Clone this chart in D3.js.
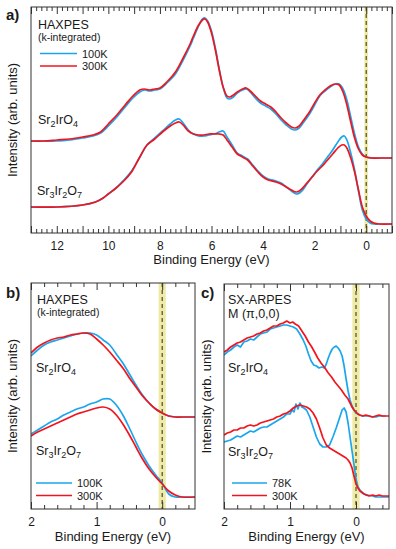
<!DOCTYPE html>
<html><head><meta charset="utf-8">
<script src="https://cdn.jsdelivr.net/npm/d3@7"></script>
<style>
body{margin:0;background:#fff;}
text{font-family:"Liberation Sans",Arial,Helvetica,sans-serif;fill:#1a1a1a;}
</style></head>
<body>
<script>
// ---------- DATA ----------
// Panel a (HAXPES, wide range)
const energyA214 = [13.0,12.5,12.0,11.5,11.0,10.6,10.3,10.0,9.67,9.35,9.05,8.78,8.6,8.4,8.2,8.0,7.73,7.4,7.1,6.83,6.7,6.5,6.35,6.25,6.15,6.0,5.85,5.7,5.55,5.4,5.3,5.15,5.0,4.8,4.65,4.5,4.3,4.1,3.9,3.7,3.5,3.3,3.1,2.9,2.75,2.6,2.45,2.2,2.0,1.8,1.6,1.4,1.2,1.05,0.9,0.75,0.6,0.45,0.3,0.15,0.0,-0.2,-0.5,-1.0];
const a214Red  = [92,92,93,94,96,98,101,109,118,128,137,143,144,143,144,145,151,161,175,189,197,208,213,214,211,200,183,163,146,137,136,138,141,144,145,142,137,132,129,126,121,115,110,106,105,107,112,121,130,138,143,147,149,148,141,128,111,95,84,78,76,75,75,75];
const a214Blue = [92,92,92,93,95,97,100,107,116,126,135,141,143,142,143,144,150,159,173,187,195,207,214,215,212,202,185,164,146,135,134,136,140,143,144,141,135,130,127,124,119,113,108,104,103,105,110,119,128,137,142,146,149,149,144,133,116,99,86,79,76,75,75,75];
const energyA327 = [13.0,12.0,11.0,10.5,10.2,10.0,9.7,9.4,9.1,8.8,8.5,8.2,7.9,7.6,7.4,7.25,7.1,6.9,6.7,6.5,6.3,6.1,5.9,5.7,5.55,5.4,5.2,5.0,4.8,4.6,4.4,4.2,4.0,3.8,3.5,3.3,3.1,2.9,2.7,2.5,2.3,2.1,1.9,1.7,1.5,1.3,1.1,0.95,0.85,0.75,0.6,0.45,0.3,0.15,0.0,-0.15,-0.3,-0.5,-1.0];
const a327Red  = [26,26,28,31,35,39,45,52,61,75,88,94,101,107,110,111,108,102,99,98,98,99,99,99,98,93,86,79,76,73,67,61,56,53,51,49,46,43,41,44,50,56,62,67,73,79,85,88,88,85,75,61,43,26,17,12,10,9,9];
const a327Blue = [26,26,28,31,35,39,45,53,62,75,88,95,102,109,113,114,110,103,99,97,97,98,99,101,102,96,88,80,77,74,68,62,57,54,52,50,46,42,39,42,49,56,63,69,76,83,91,96,97,93,80,63,42,23,14,10,9,9,9];

// Panel b (HAXPES, near E_F)
const energyB = [2.0,1.9,1.8,1.7,1.6,1.5,1.4,1.3,1.2,1.1,1.0,0.9,0.8,0.7,0.6,0.5,0.4,0.3,0.2,0.1,0.0,-0.1,-0.2,-0.3,-0.5];
const b214Red  = [156,162,166,169,171,172,174,175,176,175,170,164,157,149,141,131,122,113,106,100,96,93,92,92,92];
const b214Blue = [153,159,164,167,169,171,173,175,176,176,174,169,164,155,146,135,124,114,106,100,96,93,92,92,92];
const b327Red  = [73,77,80,83,86,89,92,95,97,99,101,102,100,94,85,74,62,50,40,32,25,18,14,12,12];
const b327Blue = [75,79,83,87,90,94,97,100,102,105,107,110,110,104,94,81,67,54,43,34,26,15,12,12,12];

// Panel c (SX-ARPES at M)
const energyC214Red = [2.0,1.95,1.9,1.85,1.8,1.75,1.7,1.65,1.6,1.55,1.5,1.45,1.4,1.35,1.3,1.25,1.2,1.15,1.1,1.05,1.0,0.96,0.92,0.87,0.82,0.77,0.72,0.67,0.62,0.58,0.53,0.47,0.42,0.37,0.32,0.27,0.22,0.17,0.12,0.09,0.06,0.03,0.0,-0.03,-0.06,-0.1,-0.15,-0.2,-0.25,-0.3,-0.35,-0.4,-0.45,-0.5];
const c214Red = [157,159,162,164,166,167,169,171,172,173,175,176,178,179,181,183,183,185,186,188,186,187,185,183,178,173,167,162,156,151,146,141,136,132,127,123,119,114,110,106,102,99,97,95,94,93,94,93,92,93,94,93,93,93];
const energyC214Blue = [2.0,1.95,1.9,1.85,1.8,1.75,1.7,1.65,1.6,1.55,1.5,1.45,1.4,1.35,1.3,1.25,1.2,1.15,1.1,1.05,1.0,0.95,0.9,0.85,0.8,0.76,0.72,0.68,0.64,0.6,0.56,0.52,0.48,0.45,0.42,0.39,0.36,0.33,0.3,0.27,0.24,0.21,0.18,0.15,0.12,0.09,0.06,0.03,0.0,-0.05,-0.1,-0.15,-0.2,-0.25,-0.3,-0.35,-0.4,-0.45];
const c214Blue = [154,157,159,162,164,162,167,168,170,169,172,175,176,177,180,181,182,183,184,184,183,182,180,175,169,163,155,148,144,143,141,142,141,145,151,156,160,162,163,161,158,153,143,130,118,109,103,99,96,94,93,93,93,92,92,93,93,93];
const energyC327Red = [2.0,1.95,1.9,1.85,1.8,1.75,1.7,1.65,1.6,1.55,1.5,1.45,1.4,1.35,1.3,1.25,1.2,1.15,1.1,1.05,1.0,0.95,0.9,0.85,0.8,0.75,0.7,0.65,0.6,0.55,0.5,0.45,0.4,0.35,0.3,0.25,0.2,0.15,0.12,0.09,0.06,0.03,0.0,-0.03,-0.06,-0.1,-0.15,-0.2,-0.25,-0.3,-0.35,-0.4,-0.45,-0.5];
const c327Red = [74,76,77,79,79,81,81,83,84,83,84,86,87,88,89,90,92,93,95,96,98,101,103,104,103,102,100,96,90,81,71,64,61,59,57,55,53,51,49,46,41,33,25,21,18,16,14,13,14,13,14,13,13,13];
const energyC327Blue = [2.0,1.95,1.9,1.85,1.8,1.75,1.7,1.65,1.6,1.55,1.5,1.45,1.4,1.35,1.3,1.25,1.2,1.15,1.1,1.05,1.0,0.97,0.94,0.91,0.88,0.85,0.82,0.79,0.75,0.7,0.65,0.6,0.55,0.5,0.45,0.4,0.35,0.3,0.25,0.21,0.18,0.15,0.12,0.09,0.06,0.03,0.0,-0.03,-0.07,-0.12,-0.18,-0.25,-0.3,-0.35,-0.4,-0.45,-0.5];
const c327Blue = [67,68,69,71,73,72,74,76,78,77,79,81,82,82,84,86,88,90,92,95,95,99,97,105,100,106,102,101,99,92,82,72,65,62,62,64,72,81,91,99,101,97,86,72,58,44,30,22,18,15,14,13,12,12,12,12,12];

const tickLabelsA = [12,10,8,6,4,2,0];
const tickLabelsBC = [2,1,0];
const legendB = ["100K","300K"];
const legendC = ["78K","300K"];

// ---------- STYLE ----------
const BLUE = "#1aa6ee", RED = "#f2141c", AXIS = "#333";
const svg = d3.select("body").append("svg").attr("width",396).attr("height",549);

function drawPanel(o){
  const x = d3.scaleLinear().domain([o.emax,o.emin]).range([o.left,o.right]);
  const y = d3.scaleLinear().domain([0,o.bottom-o.top]).range([o.bottom,o.top]);
  const g = svg.append("g");
  const clipId = "clip"+o.id;
  svg.append("clipPath").attr("id",clipId).append("rect")
    .attr("x",o.left).attr("y",o.top).attr("width",o.right-o.left).attr("height",o.bottom-o.top);
  g.append("rect").attr("x",x(o.band)).attr("y",o.top).attr("width",x(-o.band)-x(o.band))
    .attr("height",o.bottom-o.top).attr("fill","#efeaa6");
  g.append("line").attr("x1",x(0)).attr("x2",x(0)).attr("y1",o.top).attr("y2",o.bottom)
    .attr("stroke","#4a4a30").attr("stroke-width",1.2).attr("stroke-dasharray","4,3");
  const line = d3.line().x(d=>x(d[0])).y(d=>y(d[1])).curve(o.curve);
  const cg = g.append("g").attr("clip-path",`url(#${clipId})`);
  o.series.forEach(s=>{
    cg.append("path").datum(d3.zip(s.e,s.v)).attr("d",line)
      .attr("fill","none").attr("stroke",s.color).attr("stroke-width",1.7)
      .attr("stroke-linejoin","round");
  });
  const minor = d3.range(Math.ceil(o.emin*5), Math.floor(o.emax*5)+1).map(d=>d/5).filter(d=>Math.abs(d-Math.round(d))>1e-6);
  const major = d3.range(Math.ceil(o.emin), Math.floor(o.emax)+1);
  const bot = g.append("g").attr("transform",`translate(0,${o.bottom})`);
  bot.call(d3.axisBottom(x).tickValues(minor).tickSize(-4).tickFormat(""));
  bot.append("g").call(d3.axisBottom(x).tickValues(major).tickSize(-7).tickPadding(8)
    .tickFormat(d=>o.labels.includes(d)?String(d):""));
  const top = g.append("g").attr("transform",`translate(0,${o.top})`);
  top.call(d3.axisTop(x).tickValues(minor).tickSize(-4).tickFormat(""));
  top.append("g").call(d3.axisTop(x).tickValues(major).tickSize(-7).tickFormat(""));
  g.selectAll(".domain").remove();
  g.selectAll(".tick line").attr("stroke",AXIS);
  g.selectAll(".tick text").attr("font-size",12).attr("fill","#1a1a1a")
    .attr("font-family","Liberation Sans, Arial, sans-serif");
  g.append("rect").attr("x",o.left).attr("y",o.top).attr("width",o.right-o.left)
    .attr("height",o.bottom-o.top).attr("fill","none").attr("stroke",AXIS).attr("stroke-width",1);
  g.append("text").attr("x",(o.left+o.right)/2).attr("y",o.xtitleY).attr("text-anchor","middle")
    .attr("font-size",13).text("Binding Energy (eV)");
  g.append("text").attr("transform",`translate(${o.ytitleX},${(o.top+o.bottom)/2}) rotate(-90)`)
    .attr("text-anchor","middle").attr("font-size",13).text("Intensity (arb. units)");
  g.append("text").attr("x",o.letterX).attr("y",o.letterY).attr("font-size",15)
    .attr("font-weight","bold").text(o.letter);
  return {x,y,g};
}

// chemical formula: parts alternate normal text and [subscript]
function chem(g, xx, yy, parts){
  const t = g.append("text").attr("x",xx).attr("y",yy).attr("font-size",12.5);
  let lowered = false;
  parts.forEach(p=>{
    if(typeof p==="string"){
      const s = t.append("tspan").text(p);
      if(lowered){ s.attr("dy",-3); lowered=false; }
    } else {
      t.append("tspan").attr("font-size",9).attr("dy",3).text(p[0]);
      lowered = true;
    }
  });
  return t;
}
function legend(g, xx, yy, labels, gap){
  [BLUE,RED].forEach((c,i)=>{
    g.append("line").attr("x1",xx).attr("x2",xx+gap).attr("y1",yy+i*12.5).attr("y2",yy+i*12.5)
      .attr("stroke",c).attr("stroke-width",1.7);
    g.append("text").attr("x",xx+gap+5).attr("y",yy+i*12.5+4).attr("font-size",11).text(labels[i]);
  });
}

// Panel a
const pa = drawPanel({id:"a",left:31,right:392,top:7,bottom:233,emax:13,emin:-1,band:0.07,
  curve:d3.curveCatmullRom.alpha(0.5),labels:tickLabelsA,xtitleY:264,ytitleX:16.5,
  letter:"a)",letterX:6,letterY:20,
  series:[{e:energyA214,v:a214Blue,color:BLUE},{e:energyA327,v:a327Blue,color:BLUE},
          {e:energyA214,v:a214Red,color:RED},{e:energyA327,v:a327Red,color:RED}]});
pa.g.append("text").attr("x",38).attr("y",29).attr("font-size",12.5).text("HAXPES");
pa.g.append("text").attr("x",38).attr("y",41).attr("font-size",10.5).text("(k-integrated)");
legend(pa.g,40,53.5,legendB,37);
chem(pa.g,38,124,["Sr",["2"],"IrO",["4"]]);
chem(pa.g,37,195,["Sr",["3"],"Ir",["2"],"O",["7"]]);

// Panel b
const pb = drawPanel({id:"b",left:31,right:195,top:283,bottom:509,emax:2,emin:-0.5,band:0.055,
  curve:d3.curveCatmullRom.alpha(0.5),labels:tickLabelsBC,xtitleY:541,ytitleX:16.5,
  letter:"b)",letterX:6,letterY:298,
  series:[{e:energyB,v:b214Blue,color:BLUE},{e:energyB,v:b327Blue,color:BLUE},
          {e:energyB,v:b214Red,color:RED},{e:energyB,v:b327Red,color:RED}]});
pb.g.append("text").attr("x",37).attr("y",304).attr("font-size",12.5).text("HAXPES");
pb.g.append("text").attr("x",37).attr("y",316).attr("font-size",10.5).text("(k-integrated)");
legend(pb.g,36,483,legendB,36);
chem(pb.g,36,372,["Sr",["2"],"IrO",["4"]]);
chem(pb.g,36,455,["Sr",["3"],"Ir",["2"],"O",["7"]]);

// Panel c
const pc = drawPanel({id:"c",left:224,right:389,top:284,bottom:509,emax:2,emin:-0.5,band:0.055,
  curve:d3.curveLinear,labels:tickLabelsBC,xtitleY:541,ytitleX:211,
  letter:"c)",letterX:201,letterY:298,
  series:[{e:energyC214Blue,v:c214Blue,color:BLUE},{e:energyC327Blue,v:c327Blue,color:BLUE},
          {e:energyC214Red,v:c214Red,color:RED},{e:energyC327Red,v:c327Red,color:RED}]});
pc.g.append("text").attr("x",228).attr("y",304).attr("font-size",12.5).text("SX-ARPES");
pc.g.append("text").attr("x",228).attr("y",318).attr("font-size",12.5).text("M (π,0,0)");
legend(pc.g,232,483,legendC,35);
chem(pc.g,228,372,["Sr",["2"],"IrO",["4"]]);
chem(pc.g,228,456,["Sr",["3"],"Ir",["2"],"O",["7"]]);
</script>
</body></html>
